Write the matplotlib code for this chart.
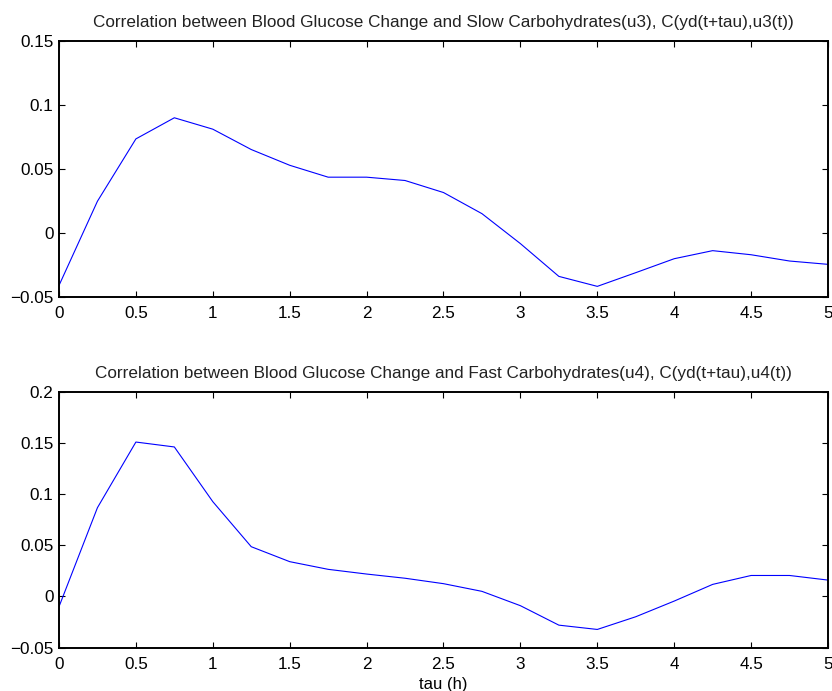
import numpy as np
import matplotlib.pyplot as plt

plt.rcParams['font.family'] = ['Liberation Sans', 'DejaVu Sans']

tau = np.arange(0, 5.01, 0.25)

# C(yd(t+tau), u3(t)) - slow carbohydrates
c_slow = [-0.041, 0.0248, 0.0735, 0.090, 0.0811, 0.0652, 0.0529, 0.0436, 0.0436,
          0.041, 0.0316, 0.0151, -0.0083, -0.0339, -0.0417, -0.031, -0.0201,
          -0.0138, -0.017, -0.0219, -0.0245]

# C(yd(t+tau), u4(t)) - fast carbohydrates
c_fast = [-0.010, 0.0867, 0.1508, 0.146, 0.0926, 0.0486, 0.0340, 0.0265, 0.0219,
          0.0178, 0.0125, 0.0050, -0.0090, -0.028, -0.0322, -0.0198, -0.0045,
          0.0118, 0.0205, 0.0205, 0.0160]

titles = ['Correlation between Blood Glucose Change and Slow Carbohydrates(u3), C(yd(t+tau),u3(t))',
          'Correlation between Blood Glucose Change and Fast Carbohydrates(u4), C(yd(t+tau),u4(t))']
yticks = [[-0.05, 0, 0.05, 0.1, 0.15], [-0.05, 0, 0.05, 0.1, 0.15, 0.2]]
ylims = [(-0.05, 0.15), (-0.05, 0.2)]

fig = plt.figure(figsize=(8.32, 6.91), dpi=100)
ax1 = fig.add_axes([0.0709, 0.5702, 0.9243, 0.3705])
ax2 = fig.add_axes([0.0709, 0.0627, 0.9243, 0.3705])

for ax, c, t, yt, yl in zip([ax1, ax2], [c_slow, c_fast], titles, yticks, ylims):
    ax.plot(tau, c, color=(0, 0, 1), linewidth=0.8)
    ax.set_xlim(0, 5)
    ax.set_ylim(*yl)
    ax.set_xticks(np.arange(0, 5.01, 0.5))
    ax.set_xticklabels(['0', '0.5', '1', '1.5', '2', '2.5', '3', '3.5', '4', '4.5', '5'])
    ax.set_yticks(yt)
    ax.set_yticklabels(['\u22120.05' if v == -0.05 else ('0' if v == 0 else f'{v:g}') for v in yt])
    ax.tick_params(direction='in', top=True, right=True, length=4.5, width=0.8,
                   labelsize=12.3, pad=4)
    ax.tick_params(axis='x', pad=6.5)
    for s in ax.spines.values():
        s.set_linewidth(1.4)
    ax.set_title(t, fontsize=12.3, color='#222222', pad=10)

ax2.set_xlabel('tau (h)', fontsize=12, labelpad=4)

fig.savefig('out.png', dpi=100)
